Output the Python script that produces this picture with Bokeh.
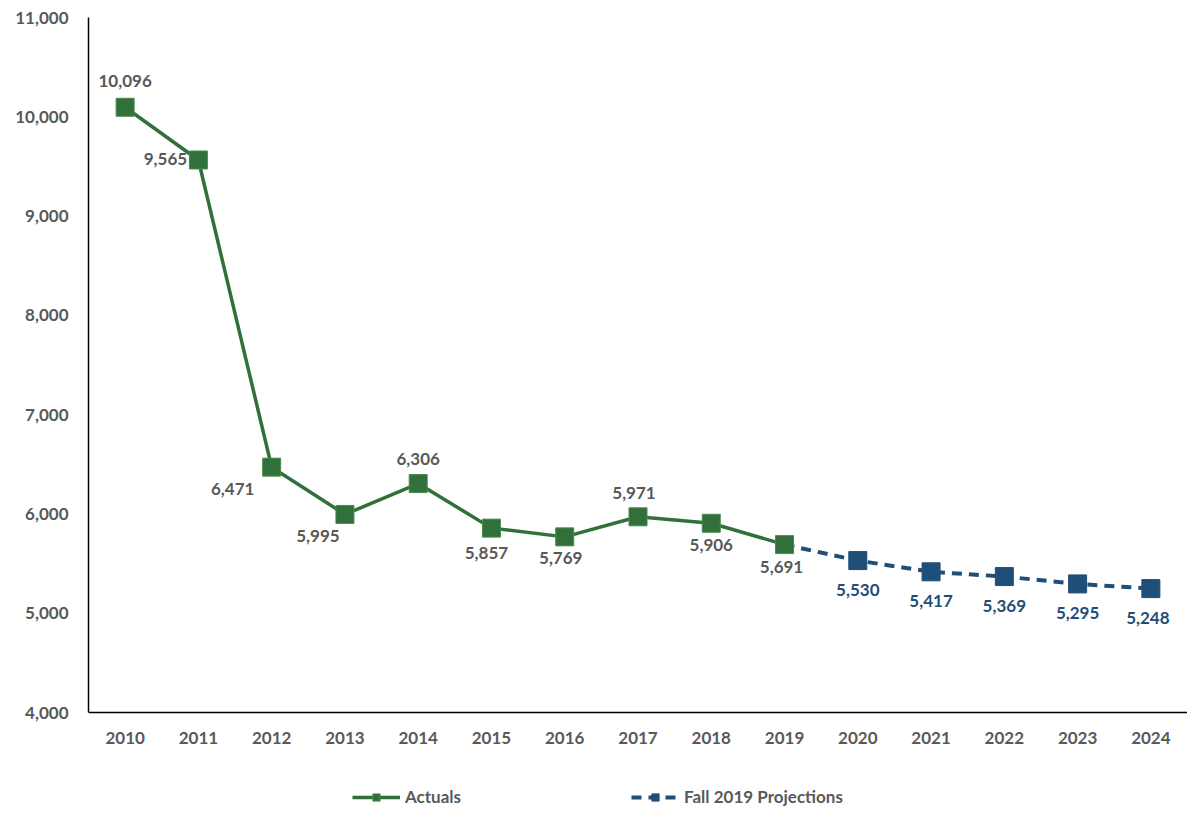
from bokeh.plotting import figure
from bokeh.models import (ColumnDataSource, LabelSet, Legend, LegendItem, FactorRange,
                          NumeralTickFormatter, FixedTicker, Range1d)
from bokeh.core.properties import value
from bokeh.embed import file_html
from bokeh.resources import INLINE

years = [str(y) for y in range(2010, 2025)]
actual_years = years[:10]
actual_values = [10096, 9565, 6471, 5995, 6306, 5857, 5769, 5971, 5906, 5691]
proj_years = years[9:]
proj_values = [5691, 5530, 5417, 5369, 5295, 5248]
proj_label_years = years[10:]
proj_label_values = [5530, 5417, 5369, 5295, 5248]
y_ticks = [4000, 5000, 6000, 7000, 8000, 9000, 10000, 11000]

# label placement (screen px, dx right, dy down)
actual_dx = [0, -33, -39, -27, 0, -5, -4, -4, 0, -3]
actual_dy = [-26, -1, 22, 22, -25, 25, 21, -24, 22, 22]
proj_dx = [0, 0, 0, 0, -3]
proj_dy = [29, 29, 29, 29, 29]

GREEN = "#31703A"
BLUE = "#1F4E79"
GREY = "#595959"
FONT = "Lato"

# layout geometry (pixels)
TOP = 17
AXIS_PX = 695          # height of the 4000..11000 axis span
BELOW_PX = 101         # space under the x axis (tick labels + legend)
y_lo, y_hi = y_ticks[0], y_ticks[-1]
y_start = y_lo - BELOW_PX * (y_hi - y_lo) / AXIS_PX

p = figure(x_range=FactorRange(factors=years, range_padding=0),
           y_range=Range1d(y_start, y_hi),
           frame_width=1099, frame_height=AXIS_PX + BELOW_PX,
           output_backend="svg", toolbar_location=None,
           min_border_left=88, min_border_right=0, min_border_top=TOP, min_border_bottom=0)
p.outline_line_color = None
p.xgrid.grid_line_color = None
p.ygrid.grid_line_color = None

for ax in (p.xaxis[0], p.yaxis[0]):
    ax.major_tick_line_color = None
    ax.minor_tick_line_color = None
    ax.major_tick_out = 0
    ax.axis_line_color = "#000000"
    ax.axis_line_width = 1.5
    ax.major_label_text_font = FONT
    ax.major_label_text_font_style = "bold"
    ax.major_label_text_font_size = "17px"
    ax.major_label_text_color = GREY
p.yaxis[0].ticker = FixedTicker(ticks=y_ticks)
p.yaxis[0].formatter = NumeralTickFormatter(format="0,0")
p.yaxis[0].major_label_standoff = 20
p.yaxis[0].bounds = (y_lo, y_hi)
p.xaxis[0].fixed_location = y_lo
p.xaxis[0].major_label_standoff = 19

src_a = ColumnDataSource(dict(x=actual_years, y=actual_values,
                              t=[f"{v:,}" for v in actual_values],
                              dx=actual_dx, dy=[-d for d in actual_dy]))
src_p = ColumnDataSource(dict(x=proj_years, y=proj_values))
src_pl = ColumnDataSource(dict(x=proj_label_years, y=proj_label_values,
                               t=[f"{v:,}" for v in proj_label_values],
                               dx=proj_dx, dy=[-d for d in proj_dy]))

pl = p.line("x", "y", source=src_p, line_color=BLUE, line_width=4, line_dash="10 7")
pm = p.scatter("x", "y", source=src_pl, marker="square", size=18, fill_color=BLUE, line_color=BLUE, line_width=1)
al = p.line("x", "y", source=src_a, line_color=GREEN, line_width=3.5)
am = p.scatter("x", "y", source=src_a, marker="square", size=18, fill_color=GREEN, line_color="#4a8a50", line_width=1)

p.add_layout(LabelSet(x="x", y="y", text="t", source=src_a, x_offset="dx", y_offset="dy",
                      text_align="center", text_baseline="middle", text_font=value(FONT),
                      text_font_style="bold", text_font_size="17px", text_color=GREY))
p.add_layout(LabelSet(x="x", y="y", text="t", source=src_pl, x_offset="dx", y_offset="dy",
                      text_align="center", text_baseline="middle", text_font=value(FONT),
                      text_font_style="bold", text_font_size="17px", text_color=BLUE))

legend = Legend(items=[LegendItem(label="Actuals", renderers=[al, am]),
                       LegendItem(label="Fall 2019 Projections", renderers=[pl, pm])],
                orientation="horizontal", location=(264, 6), border_line_color=None,
                background_fill_alpha=0, glyph_width=48, glyph_height=18,
                label_text_font=FONT, label_text_font_style="bold", label_text_font_size="17px",
                label_text_color=GREY, spacing=170, label_standoff=5, padding=0, margin=0)
p.add_layout(legend, "center")

open("out.html", "w").write(file_html(p, INLINE))
